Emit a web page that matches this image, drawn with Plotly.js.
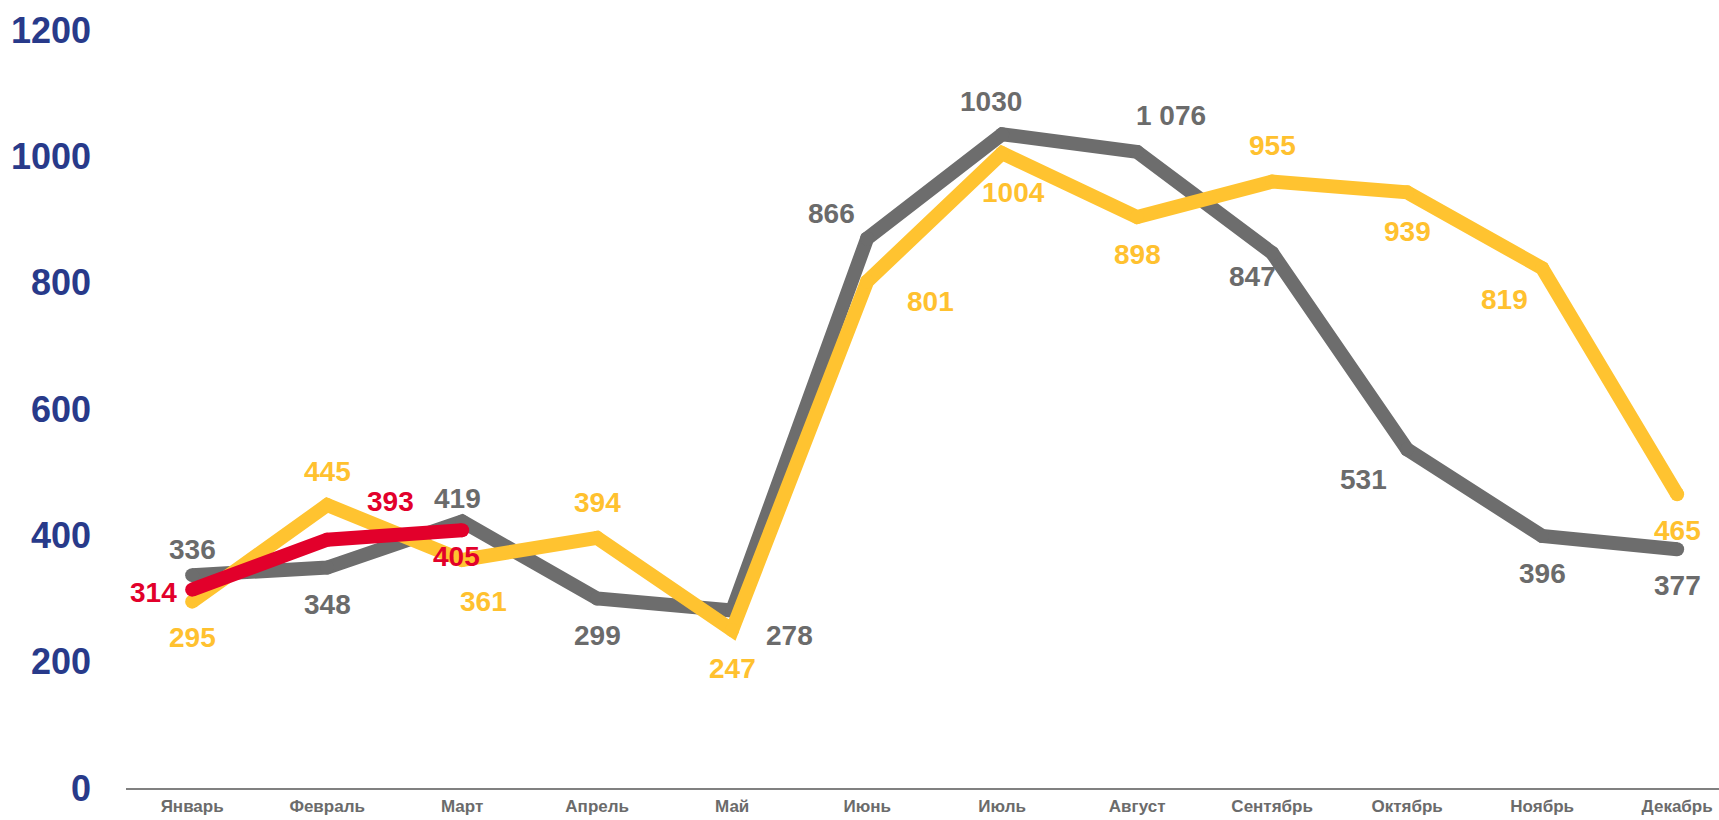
<!DOCTYPE html>
<html>
<head>
<meta charset="utf-8">
<script src="https://cdn.plot.ly/plotly-3.0.1.min.js"></script>
<style>html,body{margin:0;padding:0;background:#fff;}#chart{width:1719px;height:820px;}</style>
</head>
<body>
<div id="chart"></div>
<script>
const months = ["Январь","Февраль","Март","Апрель","Май","Июнь","Июль","Август","Сентябрь","Октябрь","Ноябрь","Декабрь"];
const grayValues = [337, 349, 422, 300, 281, 870, 1035, 1007, 847, 536, 399, 378];
const grayLabels = ["336","348","419","299","278","866","1030","1 076","847","531","396","377"];
const yellowValues = [295, 448, 361, 396, 250, 802, 1005, 904, 960, 943, 823, 465];
const yellowLabels = ["295","445","361","394","247","801","1004","898","955","939","819","465"];
const redValues = [314, 393, 408];
const redLabels = ["314","393","405"];
const yTicks = [0, 200, 400, 600, 800, 1000, 1200];

// label offsets in pixels [dx, dy(up positive)]
const grayOffsets = [[0,26],[0,-37],[-5,23],[0,-37],[57,-25],[-36,25],[-11,33],[34,36],[-20,-24],[-44,-30],[0,-38],[0,-36]];
const yellowOffsets = [[0,-36],[0,34],[21,-42],[0,35],[0,-38],[63,-20],[11,-39],[0,-38],[0,36],[0,-39],[-38,-31],[0,-36]];
const redOffsets = [[-39,-3],[63,38],[-6,-26]];

const GRAY = "#6d6d6d", YELLOW = "#FFC330", RED = "#E2002B";
const FONT = "Liberation Sans, Arial, sans-serif";

function mkTrace(vals, color) {
  return {
    type: "scatter", mode: "lines+markers",
    x: months.slice(0, vals.length), y: vals,
    line: {color: color, width: 14},
    marker: {color: color, size: 14, line: {width: 0}},
    hoverinfo: "skip", showlegend: false
  };
}
const traces = [
  mkTrace(grayValues, GRAY),
  mkTrace(yellowValues, YELLOW),
  mkTrace(redValues, RED)
];

function mkAnn(vals, labels, offs, color) {
  return vals.map((v, i) => ({
    x: months[i], y: v, xref: "x", yref: "y",
    text: labels[i], showarrow: false,
    xshift: offs[i][0], yshift: offs[i][1],
    xanchor: "center", yanchor: "middle",
    font: {family: FONT, size: 28, color: color, weight: "bold"}
  }));
}
const annotations = [].concat(
  mkAnn(grayValues, grayLabels, grayOffsets, "#6b6b6b"),
  mkAnn(yellowValues, yellowLabels, yellowOffsets, "#FFC12F"),
  mkAnn(redValues, redLabels, redOffsets, "#E2002B")
);

const layout = {
  width: 1719, height: 820,
  margin: {l: 126, r: 0, t: 30, b: 32},
  paper_bgcolor: "#fff", plot_bgcolor: "#fff",
  xaxis: {
    type: "category", categoryorder: "array", categoryarray: months,
    range: [-0.49, 11.31],
    showgrid: false, zeroline: false,
    showline: true, linecolor: "#808080", linewidth: 2,
    ticks: "", ticklabelstandoff: 2,
    tickfont: {family: FONT, size: 17, color: "#6b6b6b", weight: "bold"}
  },
  yaxis: {
    range: [0, 1200], tickvals: yTicks, ticktext: yTicks.map(String),
    showgrid: false, zeroline: false, showline: false,
    ticks: "", ticklabelstandoff: 34,
    tickfont: {family: FONT, size: 36, color: "#283A8A", weight: "bold"}
  },
  annotations: annotations
};
Plotly.newPlot("chart", traces, layout, {displayModeBar: false, staticPlot: true});
</script>
</body>
</html>
